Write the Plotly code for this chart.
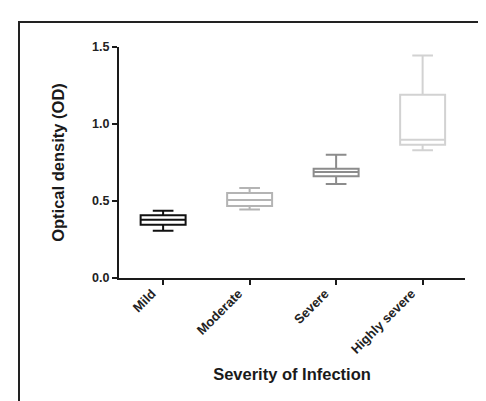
import plotly.graph_objects as go

categories = ["Mild", "Moderate", "Severe", "Highly severe"]
lower = [0.307, 0.444, 0.61, 0.829]
q1 = [0.346, 0.468, 0.66, 0.866]
median = [0.378, 0.506, 0.688, 0.898]
q3 = [0.407, 0.552, 0.71, 1.19]
upper = [0.437, 0.584, 0.80, 1.444]
colors = ["#111111", "#b4b4b4", "#8c8c8c", "#d2d2d2"]
y_ticks = [0.0, 0.5, 1.0, 1.5]

W, H = 486, 401
L, R, T, B = 111, 29, 39, 131

fig = go.Figure()
for i, c in enumerate(categories):
    fig.add_trace(go.Box(
        x=[c], q1=[q1[i]], median=[median[i]], q3=[q3[i]],
        lowerfence=[lower[i]], upperfence=[upper[i]],
        width=0.52, whiskerwidth=0.46,
        line=dict(color=colors[i], width=2),
        fillcolor="rgba(255,255,255,0)",
        boxpoints=False, showlegend=False, hoverinfo="skip",
    ))

font_family = "Liberation Sans, Arial, sans-serif"
fig.update_layout(
    width=W, height=H,
    margin=dict(l=L, r=R, t=T, b=B, pad=0),
    paper_bgcolor="white", plot_bgcolor="white",
    boxmode="overlay",
    font=dict(family=font_family, color="#1a1a1a"),
    xaxis=dict(
        type="category", categoryorder="array", categoryarray=categories,
        range=[-0.51, 3.49],
        showline=True, linecolor="#1a1a1a", linewidth=2,
        ticks="outside", ticklen=5, tickwidth=2, tickcolor="#1a1a1a",
        tickangle=-45, showgrid=False, zeroline=False,
        ticklabelshift=-11, ticklabelstandoff=-4,
        tickfont=dict(size=13, family=font_family, weight="bold", color="#222"),
        title=dict(text="<b>Severity of Infection</b>", font=dict(size=16.5), standoff=13),
    ),
    yaxis=dict(
        range=[0, 1.5], tickvals=y_ticks, ticktext=[f"{v:.1f}" for v in y_ticks],
        showline=True, linecolor="#1a1a1a", linewidth=2,
        ticks="outside", ticklen=5, tickwidth=2, tickcolor="#1a1a1a",
        showgrid=False, zeroline=False,
        tickfont=dict(size=12.5, family=font_family, weight="bold", color="#222"),
        title=dict(text="<b>Optical density (OD)</b>", font=dict(size=16.5), standoff=23),
    ),
)

pw, ph = W - L - R, H - T - B
def px(x):
    return (x - L) / pw
def py(y):
    return (H - B - y) / ph

fig.add_shape(type="path", xref="paper", yref="paper",
              path=f"M {px(11)} {py(410)} L {px(11)} {py(14)} L {px(495)} {py(14)}",
              line=dict(color="#222", width=2))

fig.write_html("out.html")
